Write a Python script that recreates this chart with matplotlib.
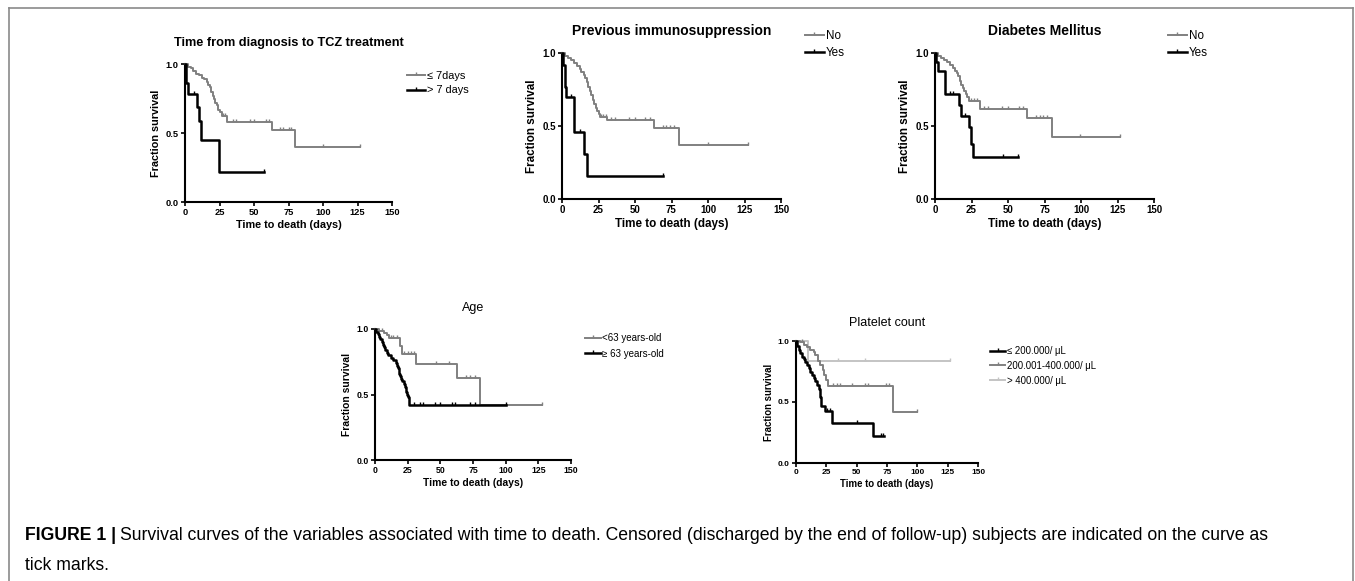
import matplotlib
matplotlib.use("Agg")
import matplotlib.pyplot as plt
import numpy as np
from matplotlib.lines import Line2D
from matplotlib.path import Path

plt.rcParams['font.family'] = ['Liberation Sans', 'DejaVu Sans']

# ---- datos (tiempo de cada escalon, supervivencia tras el escalon) ----
# Panel 1: tiempo desde diagnostico hasta TCZ
p1_le7_t = [2, 4, 6, 8, 10, 12, 14, 16, 17, 18, 19, 20, 21, 22, 23, 24, 25, 27, 30.6, 63, 80]
p1_le7_s = [0.98, 0.97, 0.95, 0.93, 0.92, 0.90, 0.89, 0.87, 0.85, 0.83, 0.80, 0.77, 0.75, 0.72,
            0.70, 0.67, 0.65, 0.62, 0.58, 0.52, 0.40]
p1_le7_c = [27.5, 29, 35, 37, 47, 50, 58.5, 61, 68.5, 71, 75, 77, 100, 127]
p1_le7_end = 127
p1_gt7_t = [0.5, 2, 9, 10.5, 11.5, 24.6]
p1_gt7_s = [0.86, 0.78, 0.69, 0.59, 0.45, 0.22]
p1_gt7_c = [6.5, 57]
p1_gt7_end = 57

# Panel 2: inmunosupresion previa
p2_no_t = [2, 4, 6, 8, 10, 12, 13, 15, 16, 17, 18, 19, 20, 21, 22, 23, 24, 25, 26, 30.8, 62.7, 80]
p2_no_s = [0.98, 0.966, 0.95, 0.93, 0.91, 0.89, 0.87, 0.85, 0.83, 0.80, 0.77, 0.74, 0.71, 0.68,
           0.65, 0.62, 0.60, 0.58, 0.565, 0.543, 0.486, 0.368]
p2_no_c = [26.7, 27.8, 30.3, 33.7, 36.5, 46, 50, 57, 60, 69, 71, 74, 77, 100, 127.5]
p2_no_end = 127.5
p2_yes_t = [0.5, 2, 3, 8.5, 15, 17]
p2_yes_s = [0.92, 0.77, 0.70, 0.46, 0.31, 0.155]
p2_yes_c = [6, 12.5, 69]
p2_yes_end = 69

# Panel 3: diabetes
p3_no_t = [2, 4, 6, 8, 10, 12, 14, 15, 16, 17, 18, 19, 20, 21, 22, 23, 30.8, 62.7, 80]
p3_no_s = [0.98, 0.965, 0.95, 0.935, 0.92, 0.90, 0.88, 0.86, 0.84, 0.81, 0.78, 0.76, 0.74, 0.72,
           0.70, 0.67, 0.616, 0.555, 0.425]
p3_no_c = [24.6, 27, 29, 33.7, 36.5, 45.6, 49.7, 57.4, 60.4, 69.5, 71.8, 74, 77, 99.6, 127]
p3_no_end = 127
p3_yes_t = [0.5, 2, 7, 16.4, 18, 23, 24.6, 25.8]
p3_yes_s = [0.94, 0.875, 0.72, 0.645, 0.57, 0.49, 0.38, 0.29]
p3_yes_c = [10, 12.5, 20.5, 46.3, 57]
p3_yes_end = 57

# Panel 4: edad
p4_lt63_t = [3, 7, 9, 11, 19, 20.5, 31.4, 63, 80.4]
p4_lt63_s = [0.985, 0.97, 0.955, 0.93, 0.87, 0.81, 0.733, 0.628, 0.42]
p4_lt63_c = [5, 12, 14, 17, 22, 25.5, 27.5, 30, 47, 57, 69.4, 73, 76.5, 127.5]
p4_lt63_end = 127.5
p4_ge63_t = [1, 2, 3, 4, 5, 6, 7, 8, 9, 10, 12, 14, 16, 17, 17.5, 18, 18.5, 19, 20, 21, 22, 23,
             23.5, 24, 24.5, 25, 26]
p4_ge63_s = [0.98, 0.96, 0.94, 0.92, 0.90, 0.88, 0.86, 0.84, 0.82, 0.80, 0.78, 0.76, 0.74, 0.72,
             0.70, 0.68, 0.66, 0.64, 0.62, 0.60, 0.58, 0.56, 0.54, 0.52, 0.50, 0.48, 0.42]
p4_ge63_c = [30, 34.4, 36.5, 46, 50, 58.7, 61, 72.7, 76.5, 100.3]
p4_ge63_end = 100.3

# Panel 5: plaquetas
p5_low_t = [0.8, 2.2, 3.6, 5, 6.3, 7.7, 9, 10.4, 11.8, 13, 14.5, 15.9, 17.2, 18.6, 20, 20.8, 24, 30, 63.2]
p5_low_s = [0.96, 0.93, 0.90, 0.87, 0.85, 0.83, 0.80, 0.775, 0.75, 0.72, 0.70, 0.67, 0.64, 0.61,
            0.54, 0.47, 0.43, 0.33, 0.22]
p5_low_c = [25.5, 28, 50, 70, 72]
p5_low_end = 72.5
p5_mid_t = [3, 6.3, 9, 11.8, 14.5, 16, 17.8, 20, 22, 23.3, 24.6, 26, 79.7]
p5_mid_s = [0.99, 0.967, 0.95, 0.926, 0.91, 0.885, 0.84, 0.80, 0.76, 0.72, 0.68, 0.63, 0.42]
p5_mid_c = [5, 30.4, 33.7, 36.4, 46, 57, 59.7, 74, 77, 99.4]
p5_mid_end = 99.4
p5_high_t = [10]
p5_high_s = [0.84]
p5_high_c = [35, 57, 127]
p5_high_end = 127

x_ticks = [0, 25, 50, 75, 100, 125, 150]
y_ticks = [0.0, 0.5, 1.0]

GRAY = '#808080'
LIGHT = '#c4c4c4'
W, H = 1355, 581

# marca de censura (tick hacia arriba)
tick = Path([(0, 0), (0, 1)], [Path.MOVETO, Path.LINETO])


def km(ax, t, s, cens, end, color, lw):
    x = [0] + list(t) + [end]
    y = [1.0] + list(s) + [s[-1]]
    ax.step(x, y, where='post', color=color, lw=lw, clip_on=False, zorder=3)
    tt = np.array([0] + list(t))
    ss = np.array([1.0] + list(s))
    yc = [ss[np.searchsorted(tt, c, side='right') - 1] for c in cens]
    ax.plot(cens, yc, linestyle='none', marker=tick, markersize=4, mew=1.0,
            color=color, clip_on=False, zorder=3)


fig = plt.figure(figsize=(W / 100, H / 100), dpi=100)


def panel(x0, x1, ytop, ybot, title, title_y, tsize, tweight, fs_tick, fs_lab):
    ax = fig.add_axes([x0 / W, 1 - ybot / H, (x1 - x0) / W, (ybot - ytop) / H])
    ax.set_xlim(0, 150)
    ax.set_ylim(0, 1)
    ax.set_xticks(x_ticks)
    ax.set_yticks(y_ticks)
    ax.set_yticklabels(['0.0', '0.5', '1.0'])
    for side in ['top', 'right']:
        ax.spines[side].set_visible(False)
    for side in ['left', 'bottom']:
        ax.spines[side].set_linewidth(1.5)
    ax.tick_params(width=1.2, length=3, labelsize=fs_tick, pad=1.5)
    for lab in ax.get_xticklabels() + ax.get_yticklabels():
        lab.set_fontweight('bold')
    ax.set_xlabel('Time to death (days)', fontsize=fs_lab, fontweight='bold', labelpad=2)
    ax.set_ylabel('Fraction survival', fontsize=fs_lab, fontweight='bold', labelpad=3)
    fig.text((x0 + x1) / 2 / W, 1 - title_y / H, title, ha='center', va='center',
             fontsize=tsize, fontweight=tweight)
    return ax


def legend(ax, items, x, y, fs, spacing):
    handles = [Line2D([], [], color=c, lw=lw, marker=tick, markersize=4, mew=1.0)
               for c, lw, _ in items]
    ax.legend(handles, [lab for _, _, lab in items], loc='upper left',
              bbox_to_anchor=(x / W, 1 - y / H), bbox_transform=fig.transFigure,
              frameon=False, fontsize=fs, handlelength=1.6, handletextpad=0.2,
              borderpad=0, borderaxespad=0, labelspacing=spacing)


# Panel 1
ax1 = panel(185, 392, 64, 202, 'Time from diagnosis to TCZ treatment', 43, 9.2, 'bold', 6.7, 7.8)
km(ax1, p1_le7_t, p1_le7_s, p1_le7_c, p1_le7_end, GRAY, 1.4)
km(ax1, p1_gt7_t, p1_gt7_s, p1_gt7_c, p1_gt7_end, 'black', 1.8)
legend(ax1, [(GRAY, 1.4, '≤ 7days'), ('black', 1.8, '> 7 days')], 407, 71, 7.9, 0.4)

# Panel 2
ax2 = panel(562, 781, 53, 199, 'Previous immunosuppression', 31, 10, 'bold', 7, 8.4)
km(ax2, p2_no_t, p2_no_s, p2_no_c, p2_no_end, GRAY, 1.4)
km(ax2, p2_yes_t, p2_yes_s, p2_yes_c, p2_yes_end, 'black', 1.8)
legend(ax2, [(GRAY, 1.4, 'No'), ('black', 1.8, 'Yes')], 805, 30, 8.4, 0.45)

# Panel 3
ax3 = panel(935, 1154, 53, 199, 'Diabetes Mellitus', 31, 10, 'bold', 7, 8.4)
km(ax3, p3_no_t, p3_no_s, p3_no_c, p3_no_end, GRAY, 1.4)
km(ax3, p3_yes_t, p3_yes_s, p3_yes_c, p3_yes_end, 'black', 1.8)
legend(ax3, [(GRAY, 1.4, 'No'), ('black', 1.8, 'Yes')], 1168, 30, 8.4, 0.45)

# Panel 4
ax4 = panel(375, 571, 329, 460, 'Age', 308, 9, 'normal', 6.3, 7.4)
km(ax4, p4_lt63_t, p4_lt63_s, p4_lt63_c, p4_lt63_end, GRAY, 1.4)
km(ax4, p4_ge63_t, p4_ge63_s, p4_ge63_c, p4_ge63_end, 'black', 1.8)
legend(ax4, [(GRAY, 1.4, '<63 years-old'), ('black', 1.8, '≥ 63 years-old')], 585, 333, 7, 0.6)

# Panel 5
ax5 = panel(796, 978, 341, 463, 'Platelet count', 323, 9, 'normal', 6, 6.9)
km(ax5, p5_high_t, p5_high_s, p5_high_c, p5_high_end, LIGHT, 1.4)
km(ax5, p5_mid_t, p5_mid_s, p5_mid_c, p5_mid_end, GRAY, 1.4)
km(ax5, p5_low_t, p5_low_s, p5_low_c, p5_low_end, 'black', 1.8)
legend(ax5, [('black', 1.8, '≤ 200.000/ μL'), (GRAY, 1.4, '200.001-400.000/ μL'),
             (LIGHT, 1.4, '> 400.000/ μL')], 990, 346, 6.9, 0.5)

# marco de la figura
for xs, ys in [([9, 1353], [8, 8]), ([9, 9], [8, 581]), ([1353, 1353], [8, 581])]:
    fig.add_artist(Line2D([x / W for x in xs], [1 - y / H for y in ys], color='#8a8a8a', lw=1.2))

# pie de figura
fig.canvas.draw()
r = fig.canvas.get_renderer()
cap_fs = 12.7
t_bold = fig.text(25 / W, 1 - 536 / H, 'FIGURE 1 |', fontsize=cap_fs, fontweight='bold', va='center')
bb = t_bold.get_window_extent(renderer=r)
fig.text((bb.x1 + 4) / W, 1 - 536 / H,
         'Survival curves of the variables associated with time to death. Censored (discharged by '
         'the end of follow-up) subjects are indicated on the curve as',
         fontsize=cap_fs, va='center')
fig.text(25 / W, 1 - 566 / H, 'tick marks.', fontsize=cap_fs, va='center')

fig.savefig('out.png', dpi=100)
